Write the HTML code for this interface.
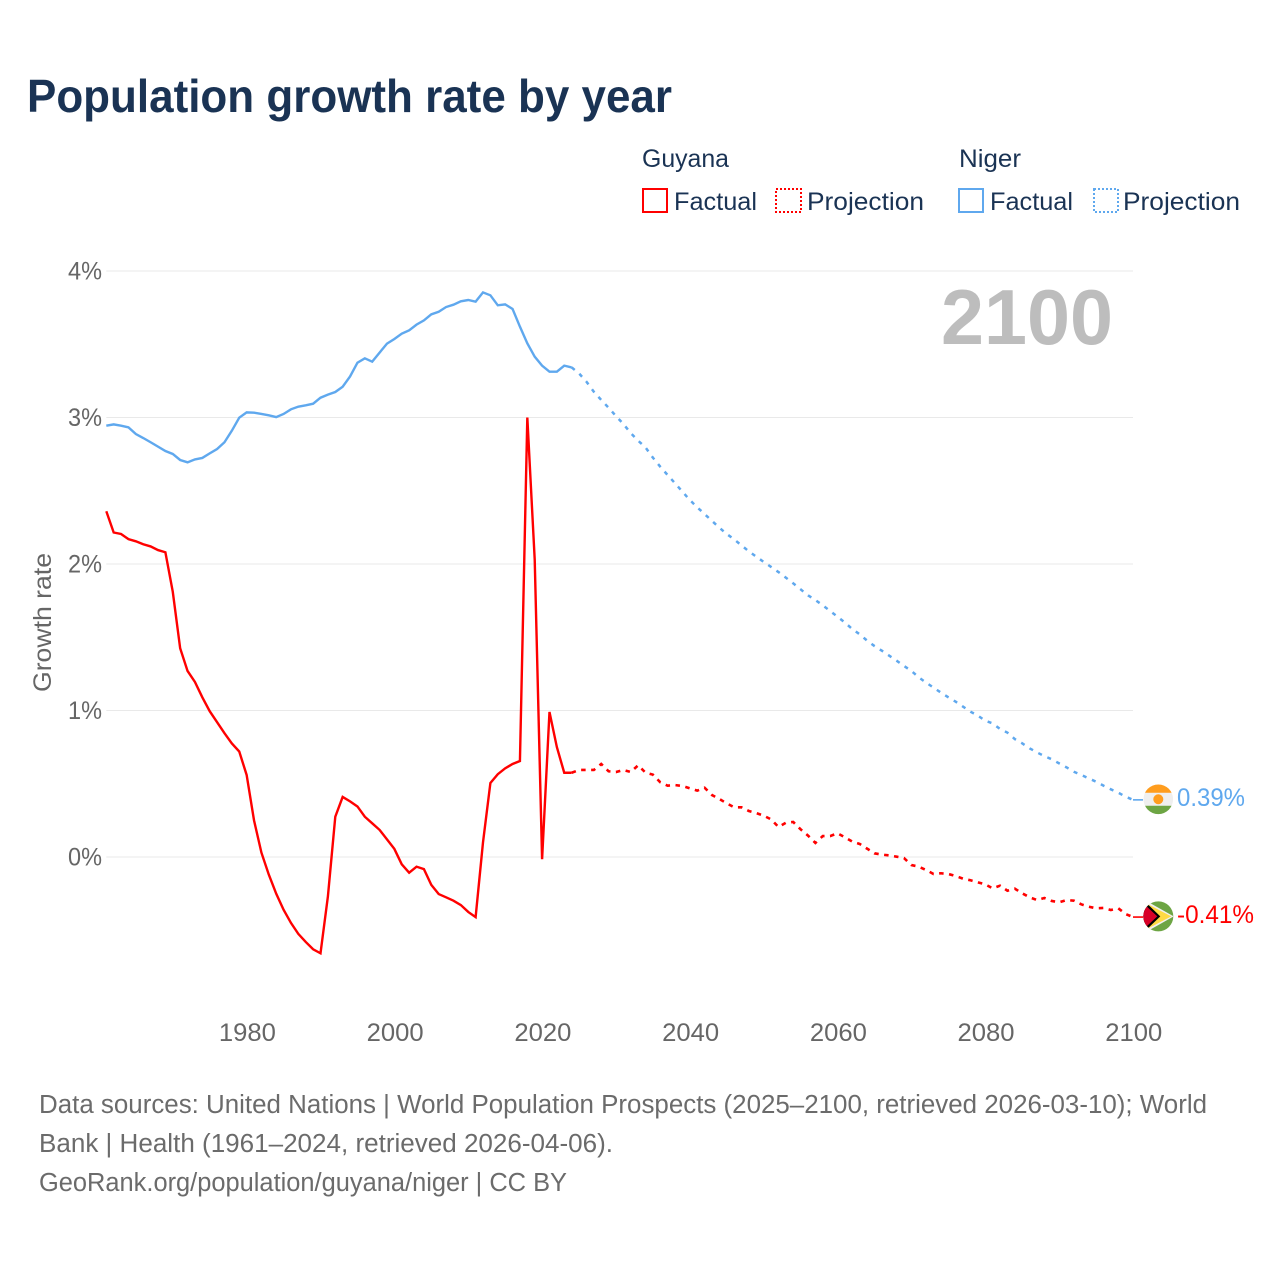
<!DOCTYPE html>
<html lang="en">
<head>
<meta charset="utf-8">
<title>Population growth rate by year</title>
<style>
html,body{margin:0;padding:0;background:#fff;width:1280px;height:1280px;overflow:hidden}
svg{display:block}
text{font-family:"Liberation Sans",sans-serif}
.leg{font-size:25px;fill:#1a3354}
.foot{font-size:25.5px;fill:#6b6b6b}
.tick{font-size:25px;fill:#666}
</style>
</head>
<body>
<svg id="chart" xmlns="http://www.w3.org/2000/svg" width="1280" height="1280" viewBox="0 0 1280 1280">
  <rect x="0" y="0" width="1280" height="1280" fill="#fff"/>
  <text x="27" y="112" font-size="46" font-weight="700" fill="#1a3354" textLength="645" lengthAdjust="spacingAndGlyphs">Population growth rate by year</text>

  <g>
    <text class="leg" x="642" y="167" textLength="87" lengthAdjust="spacingAndGlyphs">Guyana</text>
    <text class="leg" x="959" y="167" textLength="62" lengthAdjust="spacingAndGlyphs">Niger</text>
    <rect x="643" y="189" width="24" height="23" fill="none" stroke="#ff0000" stroke-width="2"/>
    <text class="leg" x="674" y="210" textLength="83" lengthAdjust="spacingAndGlyphs">Factual</text>
    <rect x="776" y="189" width="25" height="23" fill="none" stroke="#ff0000" stroke-width="2" stroke-dasharray="2 2"/>
    <text class="leg" x="807" y="210" textLength="117" lengthAdjust="spacingAndGlyphs">Projection</text>
    <rect x="959" y="189" width="24" height="23" fill="none" stroke="#5fa8ee" stroke-width="2"/>
    <text class="leg" x="990" y="210" textLength="83" lengthAdjust="spacingAndGlyphs">Factual</text>
    <rect x="1094" y="189" width="24" height="23" fill="none" stroke="#5fa8ee" stroke-width="2" stroke-dasharray="2 2"/>
    <text class="leg" x="1123" y="210" textLength="117" lengthAdjust="spacingAndGlyphs">Projection</text>
  </g>

  <g id="grid"></g>
  <g id="yticks"></g>
  <g id="xticks"></g>
  <text class="tick" transform="translate(51,692) rotate(-90)" x="0" y="0" textLength="139" lengthAdjust="spacingAndGlyphs">Growth rate</text>
  <text x="941" y="344" font-size="78" font-weight="700" fill="#bdbdbd" textLength="172" lengthAdjust="spacingAndGlyphs">2100</text>

  <g id="series"></g>

  <g id="flag-niger">
    <clipPath id="clip-niger"><circle cx="0" cy="0" r="14.800"/></clipPath>
    <g clip-path="url(#clip-niger)">
      <rect x="-16" y="-16" width="32" height="32" fill="#efefef"/>
      <rect x="-16" y="-16" width="32" height="9.500" fill="#ff9d1e"/>
      <rect x="-16" y="6.500" width="32" height="9.500" fill="#6da544"/>
      <circle cx="0" cy="0" r="5" fill="#ff9d1e"/>
    </g>
  </g>
  <g id="flag-guyana">
    <clipPath id="clip-guyana"><circle cx="0" cy="0" r="15"/></clipPath>
    <g clip-path="url(#clip-guyana)">
      <rect x="-16" y="-16" width="32" height="32" fill="#6da544"/>
      <polygon points="-13,-16 15.500,0 -13,16" fill="#f0f0f0"/>
      <polygon points="-12,-13 13,0 -12,13" fill="#ffda44"/>
      <polygon points="-16,-15 -11,-12.500 2,0 -11,12.500 -16,15" fill="#000"/>
      <polygon points="-16,-14 -1,0 -16,14" fill="#d80027"/>
    </g>
  </g>
  <text id="label-niger" font-size="25" fill="#5fa8ee" textLength="68" lengthAdjust="spacingAndGlyphs"></text>
  <text id="label-guyana" font-size="25" fill="#ff0000" textLength="77" lengthAdjust="spacingAndGlyphs"></text>

  <g>
    <text class="foot" x="39" y="1113" textLength="1168" lengthAdjust="spacingAndGlyphs">Data sources: United Nations | World Population Prospects (2025–2100, retrieved 2026-03-10); World</text>
    <text class="foot" x="39" y="1152" textLength="574" lengthAdjust="spacingAndGlyphs">Bank | Health (1961–2024, retrieved 2026-04-06).</text>
    <text class="foot" x="39" y="1191" textLength="528" lengthAdjust="spacingAndGlyphs">GeoRank.org/population/guyana/niger | CC BY</text>
  </g>
</svg>
<script>
const factualStartYear = 1961;
const projectionStartYear = 2024;
const yTickValues = [0, 1, 2, 3, 4];
const yTickLabels = ['0%', '1%', '2%', '3%', '4%'];
const xTickValues = [1980, 2000, 2020, 2040, 2060, 2080, 2100];
const xTickLabels = ['1980', '2000', '2020', '2040', '2060', '2080', '2100'];
const guyanaEndLabel = '-0.41%';
const nigerEndLabel = '0.39%';

const guyanaFactual = [2.36,2.215,2.205,2.17,2.155,2.135,2.12,2.095,2.08,1.81,1.425,1.27,1.195,1.09,0.995,0.92,0.845,0.775,0.72,0.56,0.25,0.03,-0.12,-0.25,-0.36,-0.45,-0.525,-0.58,-0.63,-0.657,-0.27,0.275,0.41,0.38,0.345,0.275,0.23,0.185,0.12,0.055,-0.05,-0.107,-0.066,-0.083,-0.19,-0.253,-0.275,-0.298,-0.328,-0.375,-0.41,0.1,0.505,0.565,0.605,0.635,0.655,3.0,2.03,-0.015,0.99,0.75,0.575,0.575];
const guyanaProjection = [0.575,0.594,0.594,0.594,0.635,0.585,0.58,0.594,0.58,0.626,0.576,0.562,0.51,0.487,0.491,0.485,0.469,0.453,0.473,0.423,0.396,0.366,0.339,0.339,0.314,0.3,0.282,0.257,0.205,0.234,0.239,0.189,0.146,0.096,0.143,0.143,0.162,0.134,0.105,0.089,0.057,0.025,0.016,0.011,0.002,-0.007,-0.055,-0.066,-0.089,-0.116,-0.111,-0.116,-0.13,-0.148,-0.159,-0.173,-0.187,-0.214,-0.196,-0.23,-0.216,-0.248,-0.275,-0.294,-0.28,-0.3,-0.309,-0.294,-0.298,-0.323,-0.339,-0.35,-0.348,-0.362,-0.35,-0.389,-0.41];
const nigerFactual = [2.944,2.953,2.944,2.933,2.887,2.86,2.831,2.801,2.771,2.751,2.71,2.694,2.714,2.724,2.755,2.785,2.831,2.91,2.999,3.035,3.033,3.024,3.015,3.003,3.024,3.056,3.074,3.083,3.094,3.135,3.156,3.174,3.21,3.28,3.374,3.404,3.381,3.443,3.504,3.536,3.572,3.595,3.634,3.663,3.704,3.722,3.754,3.77,3.793,3.802,3.791,3.854,3.834,3.766,3.772,3.741,3.62,3.506,3.415,3.354,3.313,3.313,3.354,3.342];
const nigerProjection = [3.342,3.301,3.245,3.176,3.12,3.067,3.01,2.956,2.894,2.842,2.796,2.726,2.664,2.607,2.551,2.494,2.437,2.387,2.341,2.294,2.248,2.205,2.168,2.127,2.086,2.05,2.014,1.98,1.945,1.907,1.868,1.827,1.786,1.754,1.718,1.679,1.64,1.6,1.556,1.52,1.477,1.44,1.408,1.374,1.34,1.304,1.27,1.226,1.19,1.156,1.122,1.09,1.06,1.026,0.992,0.965,0.93,0.912,0.874,0.849,0.805,0.776,0.742,0.714,0.689,0.667,0.639,0.612,0.582,0.56,0.537,0.514,0.487,0.462,0.439,0.412,0.39];

const SVGNS = 'http://www.w3.org/2000/svg';
const xScale = function (year) { return 106.3 + (year - 1961) * (1133 - 106.3) / (2100 - 1961); };
const yScale = function (v) { return 857 - v * 146.5; };

function make(tag, parent) {
  const el = document.createElementNS(SVGNS, tag);
  parent.appendChild(el);
  return el;
}
function linePath(values, startYear) {
  return values.map(function (v, i) {
    return (i ? 'L' : 'M') + xScale(startYear + i).toFixed(2) + ' ' + yScale(v).toFixed(2);
  }).join('');
}

const grid = document.getElementById('grid');
const yticks = document.getElementById('yticks');
yTickValues.forEach(function (v, i) {
  const g = make('line', grid);
  
  
  g.setAttribute('x1', xScale(1961));
  g.setAttribute('x2', xScale(2100));
  g.setAttribute('y1', yScale(v));
  g.setAttribute('y2', yScale(v));
  g.setAttribute('stroke', '#e9e9e9');
  g.setAttribute('stroke-width', '1');
  const t = make('text', yticks);
  
  
  t.setAttribute('class', 'tick');
  t.setAttribute('x', 102);
  t.setAttribute('y', yScale(v) + 8.5);
  t.setAttribute('text-anchor', 'end');
  t.setAttribute('textLength', '34');
  t.setAttribute('lengthAdjust', 'spacingAndGlyphs');
  t.textContent = yTickLabels[i];
});

const xticks = document.getElementById('xticks');
xTickValues.forEach(function (v, i) {
  const t = make('text', xticks);
  
  
  t.setAttribute('class', 'tick');
  t.setAttribute('x', xScale(v) + 0.8);
  t.setAttribute('y', 1041);
  t.setAttribute('text-anchor', 'middle');
  t.setAttribute('textLength', '57');
  t.setAttribute('lengthAdjust', 'spacingAndGlyphs');
  t.textContent = xTickLabels[i];
});

const seriesGroup = document.getElementById('series');

const nigerFactualLine = make('path', seriesGroup);


nigerFactualLine.setAttribute('d', linePath(nigerFactual, factualStartYear));
nigerFactualLine.setAttribute('fill', 'none');
nigerFactualLine.setAttribute('stroke', '#5fa8ee');
nigerFactualLine.setAttribute('stroke-width', '2.4');

const nigerProjectionLine = make('path', seriesGroup);


nigerProjectionLine.setAttribute('d', linePath(nigerProjection, projectionStartYear));
nigerProjectionLine.setAttribute('fill', 'none');
nigerProjectionLine.setAttribute('stroke', '#5fa8ee');
nigerProjectionLine.setAttribute('stroke-width', '2.5');
nigerProjectionLine.setAttribute('stroke-dasharray', '4 6');

const guyanaFactualLine = make('path', seriesGroup);


guyanaFactualLine.setAttribute('d', linePath(guyanaFactual, factualStartYear));
guyanaFactualLine.setAttribute('fill', 'none');
guyanaFactualLine.setAttribute('stroke', '#ff0000');
guyanaFactualLine.setAttribute('stroke-width', '2.4');

const guyanaProjectionLine = make('path', seriesGroup);


guyanaProjectionLine.setAttribute('d', linePath(guyanaProjection, projectionStartYear));
guyanaProjectionLine.setAttribute('fill', 'none');
guyanaProjectionLine.setAttribute('stroke', '#ff0000');
guyanaProjectionLine.setAttribute('stroke-width', '2.6');
guyanaProjectionLine.setAttribute('stroke-dasharray', '4.5 5.5');

const nigerEndY = yScale(nigerProjection[nigerProjection.length - 1]);
const guyanaEndY = yScale(guyanaProjection[guyanaProjection.length - 1]);

const nigerLeader = make('line', seriesGroup);


nigerLeader.setAttribute('x1', xScale(2100));
nigerLeader.setAttribute('x2', xScale(2100) + 10);
nigerLeader.setAttribute('y1', nigerEndY);
nigerLeader.setAttribute('y2', nigerEndY);
nigerLeader.setAttribute('stroke', '#5fa8ee');
nigerLeader.setAttribute('stroke-width', '1.6');

const guyanaLeader = make('line', seriesGroup);


guyanaLeader.setAttribute('x1', xScale(2100));
guyanaLeader.setAttribute('x2', xScale(2100) + 10);
guyanaLeader.setAttribute('y1', guyanaEndY);
guyanaLeader.setAttribute('y2', guyanaEndY);
guyanaLeader.setAttribute('stroke', '#ff0000');
guyanaLeader.setAttribute('stroke-width', '1.6');

document.getElementById('flag-niger').setAttribute('transform', 'translate(' + (xScale(2100) + 25.3) + ',' + (nigerEndY - 0.6) + ')');
document.getElementById('flag-guyana').setAttribute('transform', 'translate(' + (xScale(2100) + 25.3) + ',' + (guyanaEndY - 0.7) + ')');

const nigerLabel = document.getElementById('label-niger');
nigerLabel.setAttribute('x', xScale(2100) + 44);
nigerLabel.setAttribute('y', nigerEndY + 6);
nigerLabel.textContent = nigerEndLabel;

const guyanaLabel = document.getElementById('label-guyana');
guyanaLabel.setAttribute('x', xScale(2100) + 44);
guyanaLabel.setAttribute('y', guyanaEndY + 6);
guyanaLabel.textContent = guyanaEndLabel;
</script>
</body>
</html>
